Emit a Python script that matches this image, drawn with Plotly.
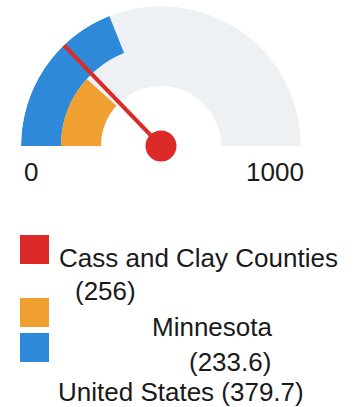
import plotly.graph_objects as go

# Gauge scale and series
scale_min, scale_max = 0, 1000
names = ["Cass and Clay Counties", "Minnesota", "United States"]
values = [256, 233.6, 379.7]
colors = ["#dc2a28", "#f0a030", "#2e8ad8"]
track_color = "#eef1f4"

# band radii (radial axis units)
inner_r, mid_r, outer_r = 60, 100, 140


def to_deg(v):
    """Map a gauge value onto the 180-degree arc."""
    return (v - scale_min) / (scale_max - scale_min) * 180.0


fig = go.Figure()

# background track
fig.add_trace(go.Barpolar(
    theta=[90], width=[180], base=[inner_r], r=[outer_r - inner_r],
    marker=dict(color=track_color, line=dict(width=0)), hoverinfo="skip",
))
# United States: outer band
fig.add_trace(go.Barpolar(
    theta=[to_deg(values[2]) / 2], width=[to_deg(values[2])],
    base=[mid_r], r=[outer_r - mid_r],
    marker=dict(color=colors[2], line=dict(width=0)),
))
# Minnesota: inner band
fig.add_trace(go.Barpolar(
    theta=[to_deg(values[1]) / 2], width=[to_deg(values[1])],
    base=[inner_r], r=[mid_r - inner_r],
    marker=dict(color=colors[1], line=dict(width=0)),
))
# Cass and Clay Counties: needle
needle_deg = to_deg(values[0])
fig.add_trace(go.Scatterpolar(
    theta=[needle_deg, needle_deg], r=[0, outer_r], mode="lines",
    line=dict(color=colors[0], width=4), cliponaxis=False,
))
fig.add_trace(go.Scatterpolar(
    theta=[0], r=[0], mode="markers", cliponaxis=False,
    marker=dict(color=colors[0], size=31, line=dict(width=0)),
))

W, H = 362, 407
fig.update_layout(
    width=W, height=H,
    margin=dict(l=0, r=0, t=0, b=0),
    paper_bgcolor="white",
    showlegend=False,
    polar=dict(
        domain=dict(x=[21 / W, 301 / W], y=[1 - 146 / H, 1 - 6 / H]),
        sector=[0, 180],
        bgcolor="rgba(0,0,0,0)",
        radialaxis=dict(range=[0, outer_r], visible=False),
        angularaxis=dict(visible=False, rotation=180, direction="clockwise"),
        barmode="overlay",
        bargap=0,
    ),
)

font = dict(family="Liberation Sans, Arial, sans-serif", size=26, color="#1a1a1a")


def label(text, x, y, xanchor="center"):
    fig.add_annotation(
        text=text, x=x / W, y=1 - y / H, xref="paper", yref="paper",
        xanchor=xanchor, yanchor="middle", showarrow=False, font=font,
        borderpad=0,
    )


# scale end labels
label(str(scale_min), 31, 172)
label(str(scale_max), 275, 172)

# legend swatches
swatches = [(235, colors[0]), (298, colors[1]), (333, colors[2])]
for top, c in swatches:
    fig.add_shape(
        type="rect", xref="paper", yref="paper",
        x0=20 / W, x1=49 / W, y0=1 - top / H, y1=1 - (top + 29) / H,
        fillcolor=c, line=dict(width=0),
    )

# legend text, wrapped
label(names[0], 58, 258, xanchor="left")
label(f"({values[0]:g})", 105, 291)
label(names[1], 212, 327)
label(f"({values[1]:g})", 230, 362)
label(f"{names[2]} ({values[2]:g})", 57, 392, xanchor="left")

fig.write_html("out.html")
